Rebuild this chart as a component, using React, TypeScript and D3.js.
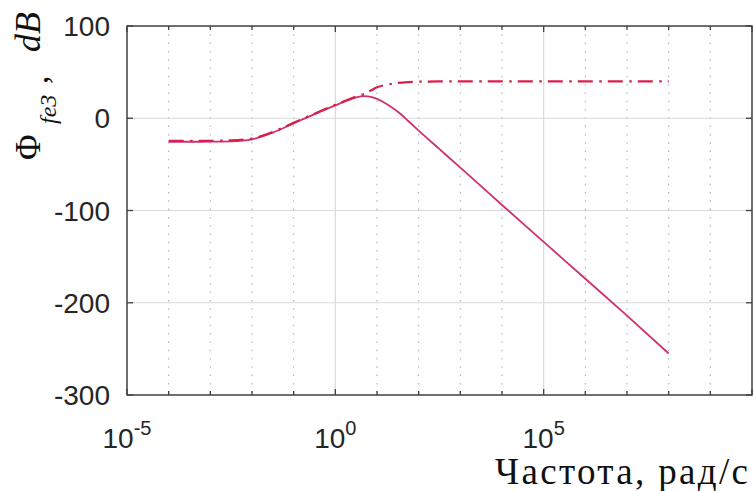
import React, { useEffect, useRef } from "react";
import * as d3 from "d3";

// log10 of frequency (rad/s) where the curves were read
const logW = [-4, -3.5, -3, -2.5, -2, -1.5, -1, -0.5, 0, 0.3, 0.5, 0.7, 0.85, 1, 1.25, 1.5, 1.75, 2, 2.5, 3, 4, 5, 6, 7, 8];
// solid curve, dB
const solidDb = [-25.5, -25.5, -25.4, -25, -22.8, -15.5, -5.5, 4.5, 14, 19.5, 22.5, 24, 23.2, 21, 15, 7, -3, -13.5, -33.5, -53.5, -94, -134, -174, -214, -255];
// dash-dot curve, dB
const dashDb = [-24.5, -24.5, -24.4, -24, -22, -14.8, -5, 5, 14.5, 20, 23.5, 26.5, 30, 33.5, 36.5, 38.3, 39.2, 39.6, 39.9, 40, 40, 40, 40, 40, 40];

const yTicks = [100, 0, -100, -200, -300];
const xLabelExp = [-5, 0, 5];
const decades = d3.range(-5, 11);

export default function App() {
  const ref = useRef(null);

  useEffect(() => {
    const root = d3.select(ref.current);
    root.selectAll("*").remove();

    const W = 754,
      H = 491;
    const left = 127,
      right = 752,
      top = 26,
      bottom = 395;

    const svg = root.append("svg").attr("width", W).attr("height", H);
    svg.append("rect").attr("width", W).attr("height", H).attr("fill", "#fff");

    const x = d3.scaleLog().domain([1e-5, 1e10]).range([left, right]);
    const y = d3.scaleLinear().domain([-300, 100]).range([bottom, top]);

    // grid
    const grid = svg.append("g");
    decades.forEach((e) => {
      if (e === -5 || e === 10) return;
      const major = e % 5 === 0;
      grid
        .append("line")
        .attr("x1", x(Math.pow(10, e)))
        .attr("x2", x(Math.pow(10, e)))
        .attr("y1", top)
        .attr("y2", bottom)
        .attr("stroke", major ? "#dadada" : "#b0b0b0")
        .attr("stroke-width", major ? 1.2 : 1.1)
        .attr("stroke-dasharray", major ? null : "1.5 6.8");
    });
    yTicks.forEach((v) => {
      if (v === 100 || v === -300) return;
      grid
        .append("line")
        .attr("x1", left)
        .attr("x2", right)
        .attr("y1", y(v))
        .attr("y2", y(v))
        .attr("stroke", "#dadada")
        .attr("stroke-width", 1.2);
    });

    // curves
    const solid = logW.map((l, i) => ({ w: Math.pow(10, l), v: solidDb[i] }));
    const dash = logW.map((l, i) => ({ w: Math.pow(10, l), v: dashDb[i] }));
    const line = d3
      .line()
      .x((d) => x(d.w))
      .y((d) => y(d.v))
      .curve(d3.curveMonotoneX);

    svg
      .append("path")
      .attr("d", line(solid))
      .attr("fill", "none")
      .attr("stroke", "#d0306e")
      .attr("stroke-width", 1.8);

    svg
      .append("path")
      .attr("d", line(dash))
      .attr("fill", "none")
      .attr("stroke", "#d91e48")
      .attr("stroke-width", 2.2)
      .attr("stroke-dasharray", "15 6.5 2.5 6");

    // box and ticks
    const axisColor = "#404040";
    svg
      .append("rect")
      .attr("x", left)
      .attr("y", top)
      .attr("width", right - left)
      .attr("height", bottom - top)
      .attr("fill", "none")
      .attr("stroke", axisColor)
      .attr("stroke-width", 1.5);

    const ticks = svg.append("g").attr("stroke", axisColor).attr("stroke-width", 1.3);
    decades.forEach((e) => {
      const xx = x(Math.pow(10, e));
      const len = e % 5 === 0 ? 6 : 4;
      ticks.append("line").attr("x1", xx).attr("x2", xx).attr("y1", bottom).attr("y2", bottom - len);
      ticks.append("line").attr("x1", xx).attr("x2", xx).attr("y1", top).attr("y2", top + len);
    });
    yTicks.forEach((v) => {
      ticks.append("line").attr("x1", left).attr("x2", left + 6).attr("y1", y(v)).attr("y2", y(v));
      ticks.append("line").attr("x1", right).attr("x2", right - 6).attr("y1", y(v)).attr("y2", y(v));
    });

    // y tick labels
    svg
      .append("g")
      .selectAll("text")
      .data(yTicks)
      .enter()
      .append("text")
      .attr("x", 110)
      .attr("y", (d) => y(d))
      .attr("dy", "0.36em")
      .attr("text-anchor", "end")
      .attr("font-family", "'Liberation Sans', Arial, sans-serif")
      .attr("font-size", 28)
      .attr("fill", "#262626")
      .text((d) => d);

    // x tick labels 10^n
    xLabelExp.forEach((e) => {
      const t = svg
        .append("text")
        .attr("x", x(Math.pow(10, e)))
        .attr("y", 448)
        .attr("text-anchor", "middle")
        .attr("font-family", "'Liberation Sans', Arial, sans-serif")
        .attr("font-size", 28)
        .attr("fill", "#262626");
      t.append("tspan").text("10");
      t.append("tspan").attr("dy", -13).attr("font-size", 20).text(e);
    });

    // x axis title
    svg
      .append("text")
      .attr("x", 495)
      .attr("y", 484)
      .attr("font-family", "'Liberation Serif', 'Times New Roman', serif")
      .attr("font-size", 37)
      .attr("textLength", 253)
      .attr("lengthAdjust", "spacing")
      .attr("fill", "#111")
      .text("Частота, рад/с");

    // y axis title
    const yl = svg
      .append("g")
      .attr("transform", "translate(40,160) rotate(-90)")
      .attr("font-family", "'Liberation Serif', 'Times New Roman', serif")
      .attr("fill", "#111");
    yl.append("text").attr("x", 0).attr("y", 0).attr("font-size", 35).text("Φ");
    yl.append("text")
      .attr("x", 36)
      .attr("y", 16)
      .attr("font-size", 24)
      .attr("font-style", "italic")
      .text("fe3");
    yl.append("text").attr("x", 76).attr("y", 8).attr("font-size", 34).text(",");
    yl.append("text")
      .attr("x", 108)
      .attr("y", 0)
      .attr("font-size", 36)
      .attr("font-style", "italic")
      .text("dB");
  }, []);

  return <div ref={ref} style={{ position: "absolute", left: 0, top: 0 }}></div>;
}
